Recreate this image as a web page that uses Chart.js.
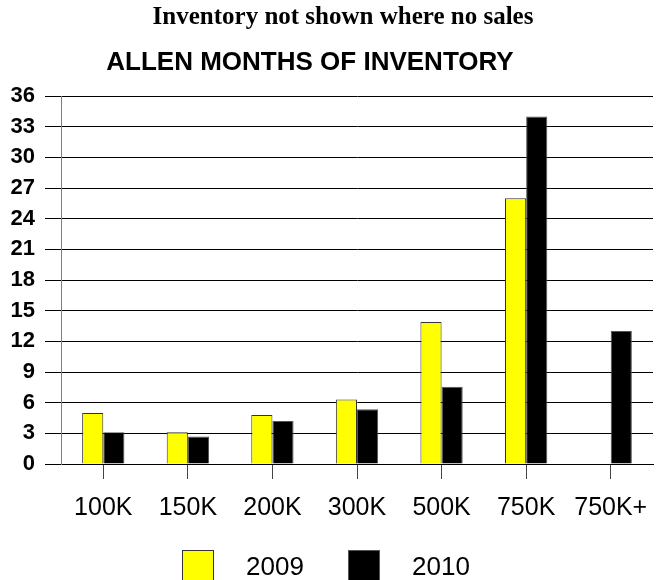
<!DOCTYPE html>
<html>
<head>
<meta charset="utf-8">
<script src="https://cdn.jsdelivr.net/npm/chart.js@4"></script>
<style>
  html, body { margin: 0; padding: 0; background: #fff; }
  #wrap { width: 664px; height: 580px; }
</style>
</head>
<body>
<div id="wrap"><canvas id="chart" width="664" height="580"></canvas></div>
<script>
const categories = ["100K", "150K", "200K", "300K", "500K", "750K", "750K+"];
const sales2009 = [5.0, 3.1, 4.8, 6.3, 13.9, 26.0, null];
const sales2010 = [3.1, 2.7, 4.2, 5.35, 7.55, 34.0, 13.0];
const yTicks = [0, 3, 6, 9, 12, 15, 18, 21, 24, 27, 30, 33, 36];

const noteText = "Inventory not shown where no sales";
const titleText = "ALLEN MONTHS OF INVENTORY";

// titles and legend drawn by hand so they sit where the original has them
const decor = {
  id: "decor",
  afterDraw(chart) {
    const ctx = chart.ctx;
    ctx.save();
    ctx.fillStyle = "#000";
    ctx.textAlign = "center";
    ctx.textBaseline = "middle";
    ctx.font = "bold 25px 'Liberation Serif', serif";
    ctx.fillText(noteText, 343, 18);
    ctx.font = "bold 26px 'Liberation Sans', Arial, sans-serif";
    ctx.fillText(titleText, 310, 63);

    // legend
    const xs = [182, 348];
    ctx.font = "26px 'Liberation Sans', Arial, sans-serif";
    ctx.textAlign = "left";
    chart.data.datasets.forEach((ds, i) => {
      ctx.fillStyle = ds.backgroundColor;
      ctx.strokeStyle = ds.borderColor;
      ctx.lineWidth = 1;
      ctx.fillRect(xs[i] + 0.5, 550.5, 31, 32);
      ctx.strokeRect(xs[i] + 0.5, 550.5, 31, 32);
      ctx.fillStyle = "#000";
      ctx.fillText(ds.label, xs[i] + 64, 568);
    });
    ctx.restore();
  }
};

new Chart(document.getElementById("chart"), {
  type: "bar",
  data: {
    labels: categories,
    datasets: [
      {
        label: "2009",
        data: sales2009,
        backgroundColor: "#ffff00",
        borderColor: "#333",
        borderWidth: 1
      },
      {
        label: "2010",
        data: sales2010,
        backgroundColor: "#000000",
        borderColor: "#555",
        borderWidth: 1
      }
    ]
  },
  options: {
    responsive: false,
    animation: false,
    categoryPercentage: 0.5,
    barPercentage: 1.0,
    layout: { padding: { top: 96, right: 11, left: 0, bottom: 0 } },
    plugins: {
      legend: { display: false },
      title: { display: false },
      tooltip: { enabled: false }
    },
    scales: {
      x: {
        grid: {
          offset: false,
          drawOnChartArea: false,
          tickLength: 15,
          color: "#444"
        },
        border: { color: "#000" },
        ticks: {
          color: "#000",
          padding: 14,
          maxRotation: 0,
          font: { family: "'Liberation Sans', Arial, sans-serif", size: 25 }
        },
        afterFit(scale) { scale.height = 116; }
      },
      y: {
        min: 0,
        max: 36,
        afterBuildTicks(scale) {
          scale.ticks = yTicks.map(v => ({ value: v }));
        },
        grid: { color: "#000", tickLength: 16 },
        border: { color: "#808080" },
        ticks: {
          color: "#000",
          padding: 10,
          font: { family: "'Liberation Sans', Arial, sans-serif", size: 22, weight: "bold" }
        },
        afterFit(scale) { scale.width = 61; }
      }
    }
  },
  plugins: [decor]
});
</script>
</body>
</html>
